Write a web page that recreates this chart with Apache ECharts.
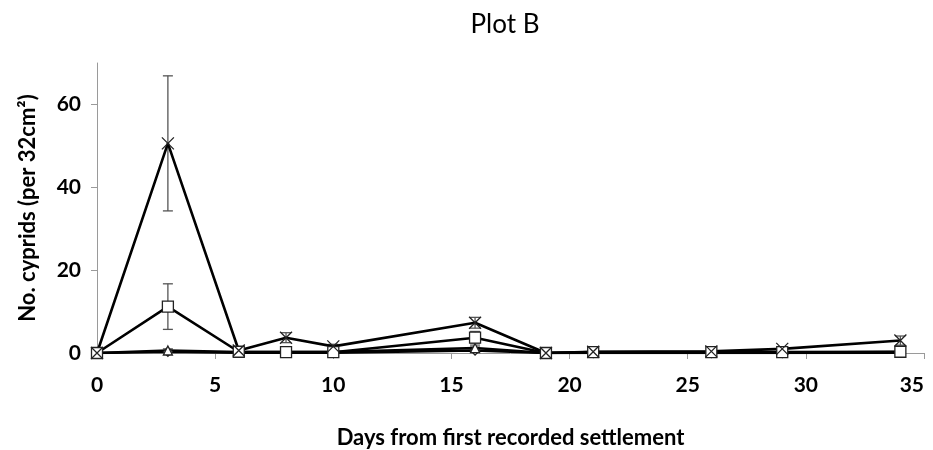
<!DOCTYPE html>
<html>
<head>
<meta charset="utf-8">
<script src="https://cdn.jsdelivr.net/npm/echarts@6/dist/echarts.min.js"></script>
<style>
  html, body { margin: 0; padding: 0; background: #fff; }
  #plotB { width: 933px; height: 450px; }
</style>
</head>
<body>
<div id="plotB"></div>
<script>
  // days sampled
  var days = [0, 3, 6, 8, 10, 16, 19, 21, 26, 29, 34];
  // series (cyprids per 32cm2)
  var crossVals = [0, 50.6, 0.6, 3.7, 1.6, 7.3, 0, 0.3, 0.4, 1.0, 3.0];
  var crossErr = [0, 16.3, 0.5, 1.2, 0.5, 1.3, 0, 0.3, 0.4, 0.5, 1.1];
  var squareVals = [0, 11.2, 0.3, 0.2, 0.2, 3.7, 0, 0.2, 0.2, 0.2, 0.3];
  var squareErr = [0, 5.5, 0.3, 0.3, 0.3, 1.5, 0, 0.2, 0.2, 0.2, 0.3];
  var triVals = [0, 0.6, 0.2, 0.2, 0.2, 1.2, 0, 0.1, 0.1, 0.1, 0.2];
  var triErr = [0, 0.4, 0.2, 0.2, 0.2, 0.5, 0, 0.1, 0.1, 0.1, 0.2];
  var diamondVals = [0, 0.3, 0.1, 0.1, 0.1, 0.6, 0, 0, 0, 0, 0.1];
  var yLabels = [0, 20, 40, 60];

  var font = 'Lato';

  function pairs(vals) {
    var out = [];
    for (var i = 0; i < days.length; i++) out.push([days[i], vals[i]]);
    return out;
  }

  function errData(vals, errs) {
    var out = [];
    for (var i = 0; i < days.length; i++) {
      if (errs[i] > 0) out.push([days[i], vals[i] - errs[i], vals[i] + errs[i]]);
    }
    return out;
  }

  function errSeries(vals, errs) {
    return {
      type: 'custom',
      silent: true,
      z: 1,
      data: errData(vals, errs),
      renderItem: function (params, api) {
        var lo = api.coord([api.value(0), api.value(1)]);
        var hi = api.coord([api.value(0), api.value(2)]);
        var w = 5;
        var st = { stroke: '#555', lineWidth: 1.3 };
        return {
          type: 'group',
          children: [
            { type: 'line', shape: { x1: lo[0], y1: lo[1], x2: hi[0], y2: hi[1] }, style: st },
            { type: 'line', shape: { x1: lo[0] - w, y1: lo[1], x2: lo[0] + w, y2: lo[1] }, style: st },
            { type: 'line', shape: { x1: hi[0] - w, y1: hi[1], x2: hi[0] + w, y2: hi[1] }, style: st }
          ]
        };
      }
    };
  }

  function lineSeries(vals, symbol, size) {
    return {
      type: 'line',
      data: pairs(vals),
      symbol: symbol,
      symbolSize: size,
      showAllSymbol: true,
      z: 3,
      lineStyle: { color: '#000', width: 2.6 },
      itemStyle: { color: '#fff', borderColor: '#222', borderWidth: 1.3 }
    };
  }

  var chart = echarts.init(document.getElementById('plotB'));
  var option = {
    animation: false,
    title: {
      text: 'Plot B',
      left: 500,
      textAlign: 'center',
      top: 7,
      textStyle: { fontFamily: font, fontSize: 26, fontWeight: 'normal', color: '#000' }
    },
    grid: { left: 97, right: 9, top: 63, bottom: 97, outerBoundsMode: 'none' },
    xAxis: {
      type: 'value',
      min: 0,
      max: 35,
      interval: 5,
      name: 'Days from first recorded settlement',
      nameLocation: 'middle',
      nameGap: 74,
      nameTextStyle: { fontFamily: font, fontSize: 22, fontWeight: 'bold', color: '#000' },
      axisLine: { lineStyle: { color: '#9a9a9a', width: 1 } },
      axisTick: { show: true, length: 6, lineStyle: { color: '#9a9a9a' } },
      axisLabel: { fontFamily: font, fontSize: 21, fontWeight: 'bold', color: '#000', margin: 22, alignMaxLabel: 'right' },
      splitLine: { show: false }
    },
    yAxis: {
      type: 'value',
      min: 0,
      max: 70,
      name: 'No. cyprids (per 32cm²)',
      nameLocation: 'middle',
      nameGap: 58,
      nameTextStyle: { fontFamily: font, fontSize: 22, fontWeight: 'bold', color: '#000' },
      axisLine: { show: true, lineStyle: { color: '#9a9a9a', width: 1 } },
      axisTick: { show: true, length: 6, lineStyle: { color: '#9a9a9a' }, customValues: yLabels },
      axisLabel: { fontFamily: font, fontSize: 21, fontWeight: 'bold', color: '#000', margin: 16, customValues: yLabels },
      splitLine: { show: false }
    },
    series: [
      errSeries(crossVals, crossErr),
      errSeries(squareVals, squareErr),
      errSeries(triVals, triErr),
      lineSeries(diamondVals, 'diamond', 9),
      lineSeries(triVals, 'triangle', 9),
      lineSeries(squareVals, 'rect', 11),
      lineSeries(crossVals, 'path://M0,0L10,10M10,0L0,10', 12)
    ]
  };
  chart.setOption(option);
</script>
</body>
</html>
